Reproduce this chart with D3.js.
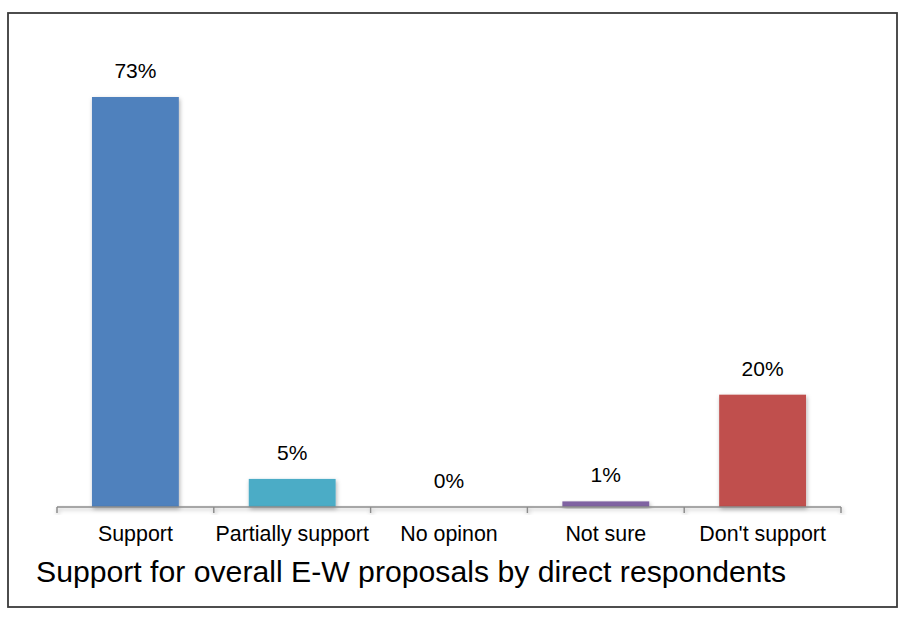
<!DOCTYPE html>
<html>
<head>
<meta charset="utf-8">
<script src="https://cdn.jsdelivr.net/npm/d3@7"></script>
<style>
  body { margin: 0; background: #fff; }
  svg text { font-family: "Liberation Sans", Arial, sans-serif; fill: #000; }
</style>
</head>
<body>
<svg id="canvas"></svg>
<script>
let categories = ['Support', 'Partially support', 'No opinon', 'Not sure', "Don't support"]
let values = [73, 5, 0, 1, 20]
let colors = ['#4F81BD', '#4BACC6', '#9BBB59', '#8064A2', '#C0504D']
let title = 'Support for overall E-W proposals by direct respondents'

let width = 910
let height = 620
let baseline = 507

let canvas = d3.select('#canvas')
canvas.attr('width', width)
canvas.attr('height', height)

let defs = canvas.append('defs')
let shadow = defs.append('filter')
        .attr('id', 'shadow')
        .attr('x', '-20%').attr('y', '-20%')
        .attr('width', '140%').attr('height', '140%')
shadow.append('feDropShadow')
        .attr('dx', 1)
        .attr('dy', 2)
        .attr('stdDeviation', 2.2)
        .attr('flood-color', '#000')
        .attr('flood-opacity', 0.3)

// outer frame
canvas.append('rect')
        .attr('x', 8)
        .attr('y', 13)
        .attr('width', 889)
        .attr('height', 594)
        .attr('fill', 'none')
        .attr('stroke', '#3a3a3a')
        .attr('stroke-width', 1.8)

let xScale = d3.scaleBand()
            .domain(categories)
            .range([57, 841])
            .paddingInner(0.446)
            .paddingOuter(0.223)

let yScale = d3.scaleLinear()
            .domain([0, 73])
            .range([baseline, 97])

// bars
canvas.selectAll('rect.bar')
        .data(values)
        .enter()
        .append('rect')
        .attr('class', 'bar')
        .attr('x', (d, i) => xScale(categories[i]))
        .attr('y', (d) => yScale(d))
        .attr('width', xScale.bandwidth())
        .attr('height', (d) => baseline - yScale(d))
        .attr('fill', (d, i) => colors[i])
        .attr('filter', (d) => d > 0 ? 'url(#shadow)' : null)

// value labels
canvas.selectAll('text.value')
        .data(values)
        .enter()
        .append('text')
        .attr('class', 'value')
        .attr('x', (d, i) => xScale(categories[i]) + xScale.bandwidth() / 2)
        .attr('y', (d) => yScale(d) - 19)
        .attr('text-anchor', 'middle')
        .style('font-size', '21px')
        .text((d) => d + '%')

// x axis: labels centred in bands, ticks on band boundaries
let xAxis = d3.axisBottom(xScale)
            .tickSize(0)
            .tickPadding(19)

let axis = canvas.append('g')
        .attr('id', 'x-axis')
        .attr('transform', `translate(0, ${baseline})`)
        .call(xAxis)
axis.select('.domain').remove()
axis.selectAll('text')
        .style('font-size', '21.4px')
        .attr('fill', '#000')

let halfGap = xScale.step() * xScale.paddingInner() / 2
let bounds = categories.map((c) => xScale(c) - halfGap).concat([xScale.range()[1]])
bounds[0] = xScale.range()[0]

let axisLine = axis.append('g').attr('filter', 'url(#shadow)')
axisLine.append('line')
        .attr('x1', xScale.range()[0])
        .attr('x2', xScale.range()[1])
        .attr('stroke', '#8c8c8c')
        .attr('stroke-width', 1.5)
axisLine.selectAll('line.tick')
        .data(bounds)
        .enter()
        .append('line')
        .attr('class', 'tick')
        .attr('x1', (d) => d)
        .attr('x2', (d) => d)
        .attr('y1', 0)
        .attr('y2', 6)
        .attr('stroke', '#8c8c8c')
        .attr('stroke-width', 1.5)

canvas.append('text')
        .attr('x', 36)
        .attr('y', 582)
        .style('font-size', '30.2px')
        .text(title)
</script>
</body>
</html>
